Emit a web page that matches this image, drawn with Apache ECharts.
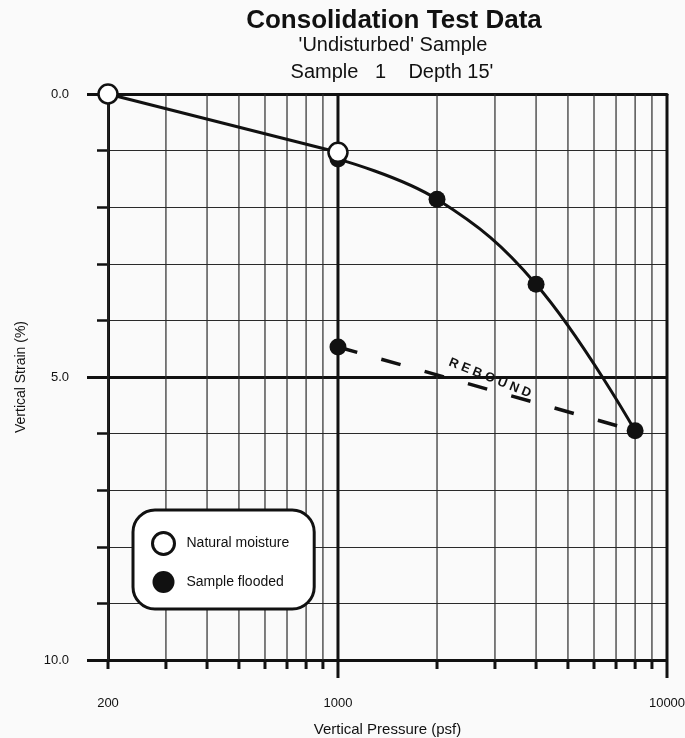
<!DOCTYPE html>
<html>
<head>
<meta charset="utf-8">
<script src="https://cdn.jsdelivr.net/npm/echarts@6/dist/echarts.min.js"></script>
<style>
  html, body { margin: 0; padding: 0; background: #fafafa; }
  #chart { width: 685px; height: 738px; }
</style>
</head>
<body>
<div id="chart"></div>
<script>
// ---- data ----
const naturalPressure = [200, 1000];
const naturalStrain = [0.0, 1.03];
const floodedPressure = [1000, 2000, 4000, 8000];
const floodedStrain = [1.15, 1.86, 3.36, 5.95];
const reboundPressure = [1000, 8000];
const reboundStrain = [4.47, 5.95];
const xGridValues = [200, 300, 400, 500, 600, 700, 800, 900, 1000,
                     2000, 3000, 4000, 5000, 6000, 7000, 8000, 9000, 10000];
const xMajorTicks = [1000, 10000];
const yLabelValues = [0, 5, 10];
const strainMin = 0, strainMax = 10;
const pressureMin = 200, pressureMax = 10000;

const FONT = '"Liberation Sans", Arial, sans-serif';
const INK = '#111';

const pairs = (xs, ys) => xs.map((x, i) => [x, ys[i]]);
const naturalPts = pairs(naturalPressure, naturalStrain);
const floodedPts = pairs(floodedPressure, floodedStrain);
const reboundPts = pairs(reboundPressure, reboundStrain);

const chart = echarts.init(document.getElementById('chart'), null, { renderer: 'canvas' });

chart.setOption({
  backgroundColor: '#fafafa',
  animation: false,
  title: [
    { text: 'Consolidation Test Data', left: 394, top: 8, textAlign: 'center', padding: 0,
      textStyle: { fontSize: 26, fontWeight: 'bold', fontFamily: FONT, color: INK } },
    { text: "'Undisturbed' Sample", left: 393, top: 35, textAlign: 'center', padding: 0,
      textStyle: { fontSize: 20, fontWeight: 'normal', fontFamily: FONT, color: INK } },
    { text: "Sample   1    Depth 15'", left: 392, top: 62, textAlign: 'center', padding: 0,
      textStyle: { fontSize: 20, fontWeight: 'normal', fontFamily: FONT, color: INK } }
  ],
  grid: { left: 108, right: 18, top: 94, bottom: 78, containLabel: false, outerBoundsMode: 'none' },
  legend: {
    orient: 'vertical', left: 133, top: 510,
    padding: [21, 25, 16, 18],
    itemWidth: 36, itemHeight: 22, itemGap: 15,
    backgroundColor: '#fff', borderColor: INK, borderWidth: 3, borderRadius: 22,
    textStyle: { fontSize: 14, fontFamily: FONT, color: INK },
    data: [
      { name: 'Natural moisture', icon: 'circle',
        itemStyle: { color: '#fff', borderColor: INK, borderWidth: 3 } },
      { name: 'Sample flooded', icon: 'circle',
        itemStyle: { color: INK, borderColor: INK, borderWidth: 0 } }
    ]
  },
  xAxis: {
    type: 'log', logBase: 10, min: pressureMin, max: pressureMax,
    name: 'Vertical Pressure (psf)', nameLocation: 'middle', nameGap: 62,
    nameTextStyle: { fontSize: 15, fontFamily: FONT, color: INK },
    axisLine: { show: true, lineStyle: { color: INK, width: 3 } },
    axisTick: { show: false },
    splitLine: { show: false },
    axisLabel: { margin: 37, fontSize: 13, fontFamily: FONT, color: INK,
                 formatter: v => String(Math.round(v)) }
  },
  yAxis: [
    {
      type: 'value', inverse: true, min: strainMin, max: strainMax, interval: 1, position: 'left',
      name: 'Vertical Strain (%)', nameLocation: 'middle', nameGap: 80,
      nameTextStyle: { fontSize: 14, fontFamily: FONT, color: INK },
      axisLine: { show: true, lineStyle: { color: INK, width: 3 } },
      axisTick: { show: true, length: 11, lineStyle: { color: INK, width: 2.5 } },
      axisLabel: { margin: 39, fontSize: 13, fontFamily: FONT, color: INK,
                   formatter: v => (yLabelValues.indexOf(v) >= 0 ? v.toFixed(1) : '') },
      splitLine: { show: true, lineStyle: { color: '#2a2a2a', width: 1.2 } }
    },
    {
      type: 'value', inverse: true, min: strainMin, max: strainMax, interval: 5, position: 'left',
      axisLine: { show: false },
      axisTick: { show: true, length: 21, lineStyle: { color: INK, width: 3 } },
      axisLabel: { show: false },
      splitLine: { show: true, lineStyle: { color: INK, width: 3 } }
    }
  ],
  graphic: [
    { type: 'text', x: 490, y: 378, rotation: -21.7 * Math.PI / 180, z: 10,
      style: { text: 'R E B O U N D', font: 'bold 13px "Liberation Sans", Arial, sans-serif',
               fill: INK, align: 'center', verticalAlign: 'middle' } }
  ],
  series: [
    {
      type: 'custom', name: 'xgrid', silent: true, clip: false, z: 1,
      data: xGridValues.map(v => [v, strainMin]),
      encode: { x: 0, y: 1 },
      renderItem: function (params, api) {
        const v = api.value(0);
        const major = xMajorTicks.indexOf(v) >= 0;
        const top = api.coord([v, strainMin]);
        const bot = api.coord([v, strainMax]);
        const tickLen = major ? 18 : 9;
        return {
          type: 'group',
          children: [
            { type: 'line', shape: { x1: top[0], y1: top[1], x2: bot[0], y2: bot[1] },
              style: { stroke: major ? INK : '#2a2a2a', lineWidth: major ? 3 : 1.2 } },
            { type: 'line', shape: { x1: bot[0], y1: bot[1], x2: bot[0], y2: bot[1] + tickLen },
              style: { stroke: INK, lineWidth: 3 } }
          ]
        };
      }
    },
    {
      type: 'line', name: 'natural curve', data: naturalPts, symbol: 'none', silent: true, z: 3,
      lineStyle: { color: INK, width: 3 }
    },
    {
      type: 'line', name: 'loading curve', data: floodedPts, symbol: 'none', smooth: 0.4, silent: true, z: 3,
      lineStyle: { color: INK, width: 3 }
    },
    {
      type: 'line', name: 'rebound', data: reboundPts, symbol: 'none', silent: true, z: 3,
      lineStyle: { color: INK, width: 3.5, type: [20, 25], cap: 'butt' }
    },
    {
      type: 'scatter', name: 'Sample flooded', data: floodedPts.concat([reboundPts[0]]),
      symbol: 'circle', symbolSize: 17, z: 4,
      itemStyle: { color: INK, borderColor: INK, borderWidth: 0, opacity: 1 }
    },
    {
      type: 'scatter', name: 'Natural moisture', data: naturalPts,
      symbol: 'circle', symbolSize: 19, z: 5,
      itemStyle: { color: '#fff', borderColor: INK, borderWidth: 2.5, opacity: 1 }
    }
  ]
});
</script>
</body>
</html>
